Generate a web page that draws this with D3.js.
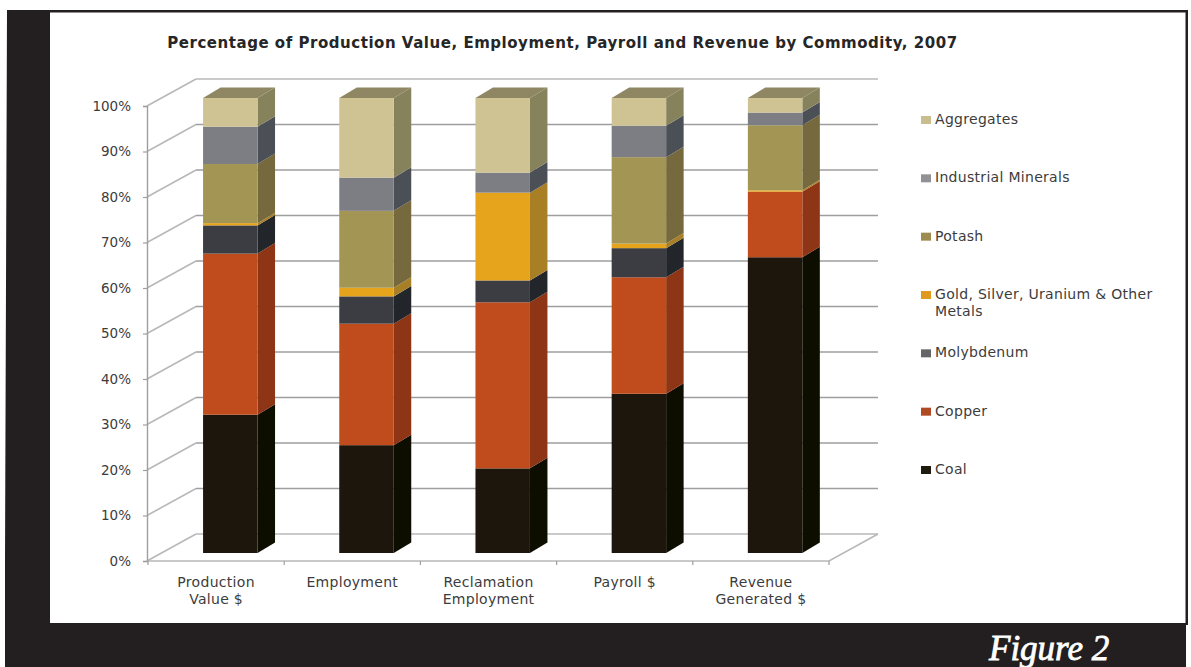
<!DOCTYPE html>
<html>
<head>
<meta charset="utf-8">
<script src="https://cdn.jsdelivr.net/npm/d3@7/dist/d3.min.js"></script>
<style>
  html, body { margin: 0; padding: 0; background: #fff; }
  svg { display: block; }
  text { font-family: "DejaVu Sans", sans-serif; fill: #3c3c3c; }
</style>
</head>
<body>
<svg id="chart" width="1191" height="667"></svg>
<script>
// Share of each commodity per measure, mining sector 2007 (percent)
const categories = [["Production", "Value $"], ["Employment"], ["Reclamation", "Employment"], ["Payroll $"], ["Revenue", "Generated $"]];
const commodities = ["Coal", "Copper", "Molybdenum", "Gold", "Potash", "Industrial", "Aggregates"];
const coal       = [30.4, 23.7, 18.6, 35.0, 65.0];
const copper     = [35.4, 26.7, 36.5, 25.6, 14.4];
const molybdenum = [ 6.2,  6.0,  4.8,  6.4,  0.0];
const gold       = [ 0.5,  1.9, 19.3,  1.0,  0.3];
const potash     = [13.0, 16.9,  0.0, 19.0, 14.3];
const industrial = [ 8.2,  7.3,  4.4,  6.9,  2.8];
const aggregates = [ 6.3, 17.5, 16.4,  6.1,  3.2];
const legendLabels = [["Coal"], ["Copper"], ["Molybdenum"], ["Gold, Silver, Uranium & Other", "Metals"], ["Potash"], ["Industrial Minerals"], ["Aggregates"]];
const percentTicks = [0, 10, 20, 30, 40, 50, 60, 70, 80, 90, 100];

const faceColors   = ["#1e1509", "#c04b1f", "#3a3d42", "#e6a31e", "#a39552", "#7d7e84", "#cfc394"];
const sideColors   = ["#0f0b06", "#8e3412", "#20252a", "#a97f28", "#75693c", "#4c4f56", "#86835c"];
const legendColors = ["#1f1a10", "#b04a22", "#636568", "#e09a20", "#9d8c50", "#929296", "#c9bd8e"];
const lidColor = "#8f8763";
const gridColor = "#9e9e9e";
const wallEdgeColor = "#b8b8b8";

const svg = d3.select("#chart");

// Page frame: dark panel with the white chart sheet inset
svg.append("path")
  .attr("fill", "#231f20")
  .attr("d", "M7,10 L1188,10 L1188,625 L1186,625 L1186,667 L5,667 L5,560 Z");
svg.append("rect").attr("x", 50).attr("y", 12.5).attr("width", 1135.5).attr("height", 610.5).attr("fill", "#fff");

// Pseudo-3D geometry: wall depth and column depth
const wallDx = 49, wallDy = -27;
const colDx = 17.5, colDy = -10.5;

const x = d3.scaleBand().domain(d3.range(categories.length)).range([148, 829]).paddingInner(0.6).paddingOuter(0.3);
const y = d3.scaleLinear().domain([0, 100]).range([561, 106]);
const colLift = -8;        // columns stand slightly behind the front edge of the floor
const colShift = 14.2;

const defs = svg.append("defs");
defs.append("filter").attr("id", "soft").attr("x", "-5%").attr("y", "-5%").attr("width", "110%").attr("height", "110%")
  .append("feGaussianBlur").attr("stdDeviation", 0.7);

const plot = svg.append("g").attr("filter", "url(#soft)");

// Back wall gridlines and the diagonals that run down the side wall
const grid = plot.append("g").attr("fill", "none").attr("stroke-width", 1.6);
percentTicks.forEach(t => {
  grid.append("path").attr("stroke", wallEdgeColor).attr("d", d3.line()([
    [147, y(t)],
    [147 + wallDx, y(t) + wallDy]
  ]));
  grid.append("path").attr("stroke", t === 100 || t === 0 ? wallEdgeColor : gridColor).attr("d", d3.line()([
    [147 + wallDx, y(t) + wallDy],
    [829 + wallDx, y(t) + wallDy]
  ]));
});
// Floor front edge and its right-hand diagonal
grid.append("path").attr("stroke", wallEdgeColor)
  .attr("d", d3.line()([[147, y(0)], [829, y(0)], [829 + wallDx, y(0) + wallDy]]));

// Stacked columns
const seriesValues = [coal, copper, molybdenum, gold, potash, industrial, aggregates];
const rows = categories.map((c, i) => Object.fromEntries(commodities.map((k, s) => [k, seriesValues[s][i]])));
const stacked = d3.stack().keys(commodities)(rows);

const columns = plot.append("g");
stacked.forEach((layer, s) => {
  layer.forEach((d, i) => {
    if (d[1] - d[0] <= 0) return;
    const x0 = x(i) + colShift, x1 = x0 + x.bandwidth();
    const yb = y(d[0]) + colLift, yt = y(d[1]) + colLift;
    columns.append("path").attr("fill", sideColors[s])
      .attr("d", d3.line()([[x1, yb], [x1 + colDx, yb + colDy], [x1 + colDx, yt + colDy], [x1, yt]]) + "Z");
    columns.append("rect").attr("x", x0).attr("y", yt).attr("width", x1 - x0).attr("height", yb - yt)
      .attr("fill", faceColors[s]);
  });
});
// Lid on the top of each column
categories.forEach((c, i) => {
  const x0 = x(i) + colShift, x1 = x0 + x.bandwidth(), yt = y(100) + colLift;
  columns.append("path").attr("fill", lidColor)
    .attr("d", d3.line()([[x0, yt], [x0 + colDx, yt + colDy], [x1 + colDx, yt + colDy], [x1, yt]]) + "Z");
});

// Value axis
const axisY = svg.append("g").attr("transform", "translate(147,0)")
  .call(d3.axisLeft(y).tickValues(percentTicks).tickFormat(d => d + "%").tickSize(4).tickPadding(12));
axisY.select(".domain").attr("stroke", gridColor).attr("stroke-width", 1.4);
axisY.selectAll(".tick line").attr("stroke", gridColor).attr("stroke-width", 1.2);
axisY.selectAll("text").style("font-size", "13.5px").style("font-family", '"DejaVu Sans", sans-serif').attr("fill", "#3c3c3c");

// Category ticks and two-line labels
const stepX = x.step();
const catTicks = svg.append("g");
d3.range(categories.length + 1).forEach(i => {
  const tx = 148 + i * stepX;
  catTicks.append("line").attr("x1", tx).attr("x2", tx).attr("y1", y(0)).attr("y2", y(0) + 4)
    .attr("stroke", gridColor).attr("stroke-width", 1.2);
});
categories.forEach((lines, i) => {
  const cx = 148 + (i + 0.5) * stepX;
  const t = svg.append("text").attr("text-anchor", "middle").style("font-size", "14px").style("letter-spacing", "0.3px");
  lines.forEach((ln, j) => t.append("tspan").attr("x", cx).attr("y", 587 + j * 17).text(ln));
});

// Title
svg.append("text").attr("x", 562.5).attr("y", 48).attr("text-anchor", "middle")
  .style("font-size", "15px").style("font-weight", 700).style("fill", "#262626").style("letter-spacing", "0.53px")
  .text("Percentage of Production Value, Employment, Payroll and Revenue by Commodity, 2007");

// Legend, top entry first
const legendY = d3.scaleLinear().domain([6, 0]).range([120, 470]);
legendLabels.forEach((lines, s) => {
  const cy = legendY(s);
  svg.append("rect").attr("x", 921).attr("y", cy - 4).attr("width", 10).attr("height", 8).attr("fill", legendColors[s]);
  const t = svg.append("text").style("font-size", "14px").style("letter-spacing", "0.3px");
  lines.forEach((ln, j) => t.append("tspan").attr("x", 935).attr("y", cy + 4 + j * 17).text(ln));
});

// Figure caption on the dark band
svg.append("text").attr("x", 989).attr("y", 660)
  .style("font-family", '"Liberation Serif", serif').style("font-style", "italic")
  .style("font-size", "35px").style("fill", "#fff").style("stroke", "#fff").style("stroke-width", 0.8)
  .text("Figure 2");
</script>
</body>
</html>
